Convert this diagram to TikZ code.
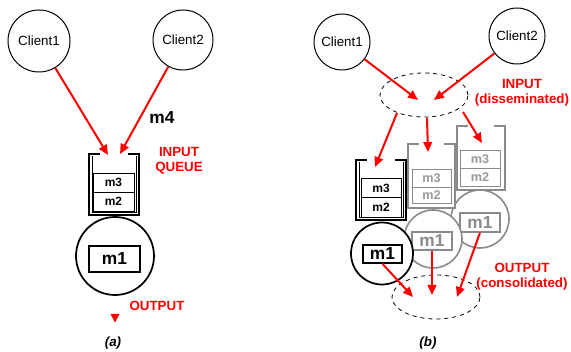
\documentclass[tikz,border=0pt]{standalone}
\usepackage{fontspec}
\setmainfont{Liberation Sans}
\usetikzlibrary{arrows.meta,shapes.geometric}
\definecolor{gr}{HTML}{8A8A8A}
\definecolor{grt}{HTML}{9A9A9A}
\begin{document}
\begin{tikzpicture}[x=0.75pt,y=-0.75pt,
  client/.style={circle, draw, line width=0.75pt, inner sep=0pt, font=\fontsize{10}{12}\selectfont},
  mbox/.style={draw, fill=white, line width=0.6pt, inner sep=0pt, font=\bfseries\fontsize{9}{10}\selectfont},
  gbox/.style={mbox, draw=gr, text=grt, font=\bfseries\fontsize{9.5}{10}\selectfont},
  bigm/.style={draw, fill=white, inner sep=0pt, font=\bfseries\fontsize{13}{15}\selectfont},
  srv/.style={circle, draw, fill=white, inner sep=0pt},
  lbl/.style={text=red, font=\bfseries\fontsize{10}{11.25}\selectfont, align=center},
  capt/.style={font=\bfseries\itshape\fontsize{10}{12}\selectfont},
  redarr/.style={draw=red, line width=1.5pt, -{Triangle[length=7.5pt,width=6.5pt]}},
  dashell/.style={ellipse, draw, dashed, line width=0.6pt, inner sep=0pt}]
\useasboundingbox (0,0) rectangle (571,352);

% ---------------- panel (a) ----------------
\node[client, minimum size=46.5pt] (c1a) at (39,41) {Client1};
\node[client, minimum size=45pt] (c2a) at (183,40) {Client2};
\coordinate (ta1) at (108,155);
\coordinate (ta2) at (120,154);
\draw[redarr] (c1a) -- (ta1);
\draw[redarr] (c2a) -- (ta2);
\node[font=\bfseries\fontsize{13}{15}\selectfont] (m4) at (162,118) {m4};

\draw[line width=1.4pt] (100,154) -- (89,154) -- (89,215) -- (139,215) -- (139,154) -- (128,154);
\draw[line width=0.6pt] (92,156) -- (92,212.5) -- (136,212.5) -- (136,156);
\node[mbox, minimum width=30.75pt, minimum height=14.25pt] (m3a) at (113.5,182.5) {m3};
\node[mbox, minimum width=30.75pt, minimum height=14.25pt] (m2a) at (113.5,201.5) {m2};
\node[lbl] (iq) at (179,160.5) {INPUT\\QUEUE};

\node[srv, line width=1.3pt, minimum size=58.5pt] (s1a) at (115,256) {};
\coordinate (qab) at (115,215);
\draw[line width=0.8pt] (qab) -- (s1a.north);
\node[bigm, line width=0.8pt, minimum width=38.25pt, minimum height=19.5pt] (m1a) at (114.5,259) {m1};
\node[lbl] (outa) at (157,306) {OUTPUT};
\fill[red] (110.5,314) -- (119.5,314) -- (115,322.5) -- cycle;
\node[capt] (capa) at (113,343) {(a)};

% ---------------- panel (b) ----------------
\node[client, minimum size=42pt] (c1b) at (342,42) {Client1};
\node[client, minimum size=42pt] (c2b) at (517,36) {Client2};
\node[dashell, minimum width=66pt, minimum height=33pt] (ein) at (424,95) {};
\coordinate (tb1) at (418,100);
\coordinate (tb2) at (434,100);
\draw[redarr] (c1b) -- (tb1);
\draw[redarr] (c2b) -- (tb2);
\node[lbl] (inl) at (522,92.5) {INPUT\\(disseminated)};

% right (back) replica
\draw[gr, line width=1.2pt, fill=white] (468,126) -- (457,126) -- (457,190) -- (505,190) -- (505,126) -- (494,126);
\node[gbox, minimum width=30pt, minimum height=13.5pt] (m3r) at (480,159) {m3};
\node[gbox, minimum width=30pt, minimum height=13.5pt] (m2r) at (480,177) {m2};
\node[srv, draw=gr, line width=1.2pt, minimum size=43.5pt] (sr) at (480,219) {};
\node[bigm, draw=gr, text=gr, line width=0.9pt, minimum width=30pt, minimum height=14.25pt] (m1r) at (480,222.5) {m1};

% middle replica
\fill[white] (408,144) rectangle (455,208);
\draw[gr, line width=1.2pt] (419,144) -- (408,144) -- (408,208) -- (455,208) -- (455,144) -- (444,144);
\node[gbox, minimum width=29.25pt, minimum height=13.5pt] (m3m) at (431.5,178) {m3};
\node[gbox, minimum width=29.25pt, minimum height=12pt] (m2m) at (431.5,195) {m2};
\node[srv, draw=gr, line width=1.2pt, minimum size=43.5pt] (sm) at (433,239) {};
\node[bigm, draw=gr, text=gr, line width=0.9pt, minimum width=30pt, minimum height=13.5pt] (m1m) at (432,241) {m1};

% front replica
\fill[white] (356,160) rectangle (406,220);
\draw[line width=1.4pt] (367,160) -- (356,160) -- (356,220) -- (406,220) -- (406,160) -- (395,160);
\draw[line width=0.6pt] (359,162) -- (359,217.5) -- (403,217.5) -- (403,162);
\node[mbox, minimum width=30pt, minimum height=14.6pt] (m3f) at (381,188) {m3};
\node[mbox, minimum width=30pt, minimum height=14.6pt] (m2f) at (381,207.5) {m2};
\node[srv, line width=1.3pt, minimum size=46.5pt] (sf) at (382,253.5) {};
\node[bigm, line width=1.3pt, minimum width=29.25pt, minimum height=13.5pt] (m1f) at (382.5,254) {m1};

% dissemination arrows
\coordinate (e1) at (397,113);
\coordinate (e2) at (427,118);
\coordinate (e3) at (463,112);
\coordinate (q1) at (375,167);
\coordinate (q2) at (428,152);
\coordinate (q3) at (482,143);
\draw[redarr] (e1) -- (q1);
\draw[redarr] (e2) -- (q2);
\draw[redarr] (e3) -- (q3);

% output
\node[dashell, minimum width=66pt, minimum height=33pt] (eout) at (436,297) {};
\coordinate (o1) at (413,297);
\coordinate (o2) at (432,295);
\coordinate (o3) at (457,297);
\draw[redarr] (m1f.south) -- (o1);
\draw[redarr] (m1m.south) -- (o2);
\draw[redarr] (m1r.south) -- (o3);
\node[lbl] (outl) at (522,276.5) {OUTPUT\\(consolidated)};
\node[capt] (capb) at (428,343) {(b)};
\end{tikzpicture}
\end{document}
